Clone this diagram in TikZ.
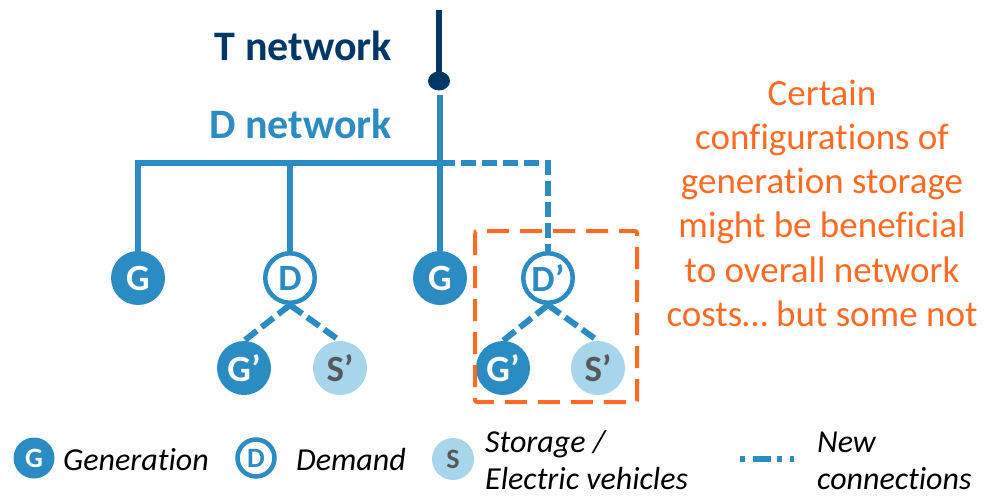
\documentclass[tikz,border=0pt]{standalone}
\usepackage{fontspec}
\setmainfont{Carlito}[Ligatures=NoCommon]
\usetikzlibrary{positioning,shapes.geometric}

\definecolor{netblue}{RGB}{43,140,196}
\definecolor{netnavy}{RGB}{0,56,101}
\definecolor{stolight}{RGB}{167,213,236}
\definecolor{stogray}{RGB}{89,89,89}
\definecolor{remark}{RGB}{255,107,34}

\tikzset{
    gen/.style={circle, fill=netblue, text=white, minimum size=54pt, inner sep=0pt,
        font=\bfseries\fontsize{37}{37}\selectfont},
    dem/.style={circle, draw=netblue, line width=4.5pt, fill=white, text=netblue,
        minimum size=49.5pt, inner sep=0pt, font=\bfseries\fontsize{37}{37}\selectfont},
    sto/.style={circle, fill=stolight, text=stogray, minimum size=54pt, inner sep=0pt,
        font=\bfseries\fontsize{37}{37}\selectfont},
    link/.style={draw=netblue, line width=6pt},
    newlink/.style={link, dash pattern=on 15pt off 6pt},
    legtext/.style={anchor=base west, inner sep=0pt, align=left,
        font=\itshape\fontsize{32}{36.5}\selectfont},
}

\begin{document}
\begin{tikzpicture}[x=1pt,y=-1pt]
\useasboundingbox (0,0) rectangle (984,496);
% T network feed
\coordinate (ttop) at (439,10);
\node (tdot) at (439,81) [ellipse, fill=netnavy, minimum width=22pt, minimum height=19pt, inner sep=0pt] {};
\draw [netnavy, line width=6pt] (ttop) -- (tdot.center);
\node [anchor=base east, inner sep=0pt, text=netnavy, font=\bfseries\fontsize{42}{42}\selectfont] (tlabel) at (392,60) {T network};
\node [anchor=base east, inner sep=0pt, text=netblue, font=\bfseries\fontsize{42}{42}\selectfont] (dlabel) at (392,138) {D network};
% D network nodes
\node [gen] (g1) at (138,278) {G};
\node [dem] (d1) at (290,278) {D};
\node [gen] (g2) at (440,278) {G};
\node [dem] (d2) at (548,278) {D’};
\node [gen] (ga) at (244,368) {G’};
\node [sto] (sa) at (340,368) {S’};
\node [gen] (gb) at (503,368) {G’};
\node [sto] (sb) at (598,368) {S’};
% bus and drops
\coordinate (dtop) at (440,95);
\coordinate (bus) at (440,163);
\draw [link] (dtop) -- (g2.north);
\draw [link, line cap=rect] (g1.north) |- (bus);
\draw [link] (d1.north) -- (d1.north |- bus);
\draw [newlink] (bus) -| (d2.north);
% new connections below demand
\draw [newlink] (d1.south) -- (ga.north);
\draw [newlink] (d1.south) -- (sa.north);
\draw [newlink] (d2.south) -- (gb.north);
\draw [newlink] (d2.south) -- (sb.north);
% highlighted configuration
\draw [remark, line width=4pt, dash pattern=on 22pt off 11pt, rounded corners=2pt] (475,231) rectangle (637,402);
\node [anchor=base, align=center, inner sep=0pt, text=remark, font=\fontsize{37}{44.3}\selectfont] (note) at (822,326.5)
    {Certain\\configurations of\\generation storage\\might be beneficial\\to overall network\\costs… but some not};
% legend
\node [gen, minimum size=41pt, font=\bfseries\fontsize{28}{28}\selectfont] (lg) at (34,458) {G};
\node [legtext] (lgt) at (63,470) {Generation};
\node [dem, minimum size=37pt, line width=4.5pt, font=\bfseries\fontsize{28}{28}\selectfont] (ld) at (256,458) {D};
\node [legtext] (ldt) at (296,470) {Demand};
\node [sto, minimum size=42pt, font=\bfseries\fontsize{28}{28}\selectfont] (ls) at (453,459) {S};
\node [legtext] (lst) at (485,489) {Storage /\\Electric vehicles};
\coordinate (lnl) at (740,459);
\coordinate (lnr) at (794,459);
\draw [link, dash pattern=on 5pt off 8pt on 18pt off 6pt] (lnl) -- (lnr);
\node [legtext] (lnt) at (817,489) {New\\connections};
\end{tikzpicture}
\end{document}
